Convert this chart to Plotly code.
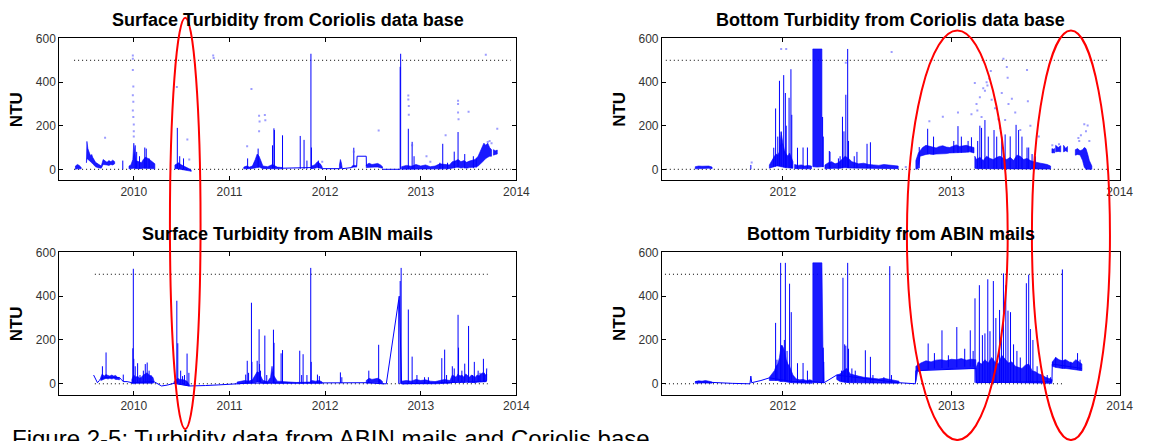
import plotly.graph_objects as go

# ---------------------------------------------------------------
# Turbidity time series (x in decimal years, y in NTU)
# Each series is drawn from: dense noisy bands (t, lo, hi, None = gap),
# individual spikes (t, base, peak), isolated samples (dots) and a
# connecting line.
# ---------------------------------------------------------------

# ---- Surface turbidity, Coriolis data base ----
sc_band_t = [2009.39, 2009.41, 2009.43, 2009.45, None,
             2009.505, 2009.51, 2009.52, 2009.53, 2009.54, 2009.55, 2009.56, 2009.57, 2009.58, 2009.59, 2009.60,
             2009.62, 2009.64, 2009.66, 2009.68, 2009.70, 2009.72, 2009.74, 2009.76, 2009.78, 2009.80, None,
             2009.95, 2009.97, 2009.99, 2010.0, 2010.02, 2010.05, 2010.08, 2010.1, 2010.12, 2010.15, 2010.18, 2010.2, 2010.22, None,
             2010.43, 2010.45, 2010.47, 2010.49, 2010.51, 2010.53, 2010.55, 2010.57, 2010.59, 2010.60, None,
             2011.15, 2011.18, 2011.21, 2011.24, 2011.27, 2011.29, 2011.31, 2011.33, 2011.35, 2011.4, 2011.45, 2011.5, 2011.55, None,
             2011.86, 2011.89, 2011.92, 2011.95, 2011.97, None,
             2012.15, 2012.16, 2012.17, 2012.18, None,
             2012.28, 2012.3, 2012.33, None,
             2012.43, 2012.46, 2012.49, 2012.52, 2012.55, 2012.58, 2012.6, None,
             2012.8, 2012.85, 2012.9, 2012.95, 2013.0, 2013.05, 2013.1, 2013.15, 2013.2, 2013.25, 2013.3,
             2013.33, 2013.36, 2013.39, 2013.42, 2013.45, 2013.48, 2013.51, 2013.54, 2013.57, 2013.6,
             2013.62, 2013.64, 2013.66, 2013.68, 2013.70, 2013.72, 2013.74, None,
             2013.76, 2013.78, 2013.80]
sc_band_hi = [15, 22, 18, 8, None,
              40, 128, 95, 78, 70, 62, 68, 55, 50, 40, 32, 25, 18, 15, 45, 38, 32, 40, 35, 42, 35, None,
              15, 20, 45, 120, 40, 35, 30, 45, 55, 50, 40, 35, 25, None,
              20, 25, 30, 22, 18, 15, 10, 5, 0, -4, None,
              10, 15, 10, 15, 45, 70, 60, 40, 15, 12, 22, 10, 8, None,
              15, 20, 35, 25, 10, None,
              20, 45, 30, 10, None,
              15, 18, 16, None,
              20, 28, 22, 25, 27, 20, 12, None,
              12, 18, 14, 22, 15, 20, 12, 15, 25, 22, 20,
              35, 38, 45, 35, 40, 32, 38, 40, 45, 60,
              80, 100, 120, 110, 120, 100, 90, None,
              90, 85, 88]
sc_band_lo = [0, 2, 3, 2, None,
              30, 50, 45, 40, 38, 35, 30, 25, 20, 15, 12, 8, 5, 5, 22, 22, 20, 18, 22, 20, 25, None,
              2, 3, 5, 5, 3, 2, 3, 5, 5, 5, 3, 3, 2, None,
              2, 3, 3, 2, 0, -2, -4, -6, -8, -10, None,
              2, 3, 3, 4, 5, 8, 10, 8, 3, 3, 5, 3, 2, None,
              3, 5, 8, 5, 2, None,
              2, 5, 5, 2, None,
              8, 10, 10, None,
              8, 10, 9, 10, 10, 8, 5, None,
              0, 0, 0, 2, 0, 0, 0, 0, 2, 2, 3,
              5, 8, 10, 6, 8, 5, 8, 10, 10, 15,
              25, 30, 40, 50, 55, 60, 60, None,
              65, 68, 70]
sc_spike_t = [2009.885, 2010.015, 2010.03, 2010.06, 2010.115, 2010.13, 2010.16, 2010.455, 2010.48, 2010.52,
              2011.19, 2011.30, 2011.45, 2011.465, 2011.47, 2011.555, 2011.74, 2011.78, 2011.81, 2011.852,
              2011.857, 2011.93, 2012.3, 2012.785, 2012.79, 2012.87, 2012.91, 2012.93, 2013.2, 2013.23,
              2013.28, 2013.35, 2013.39, 2013.46, 2013.55, 2013.58]
sc_spike_base = [0, 5, 5, 3, 5, 5, 5, 3, 3, 0,
                 3, 8, 5, 5, 5, 2, 2, 2, 2, 2,
                 2, 5, 10, 0, 0, 0, 0, 0, 0, 0,
                 0, 5, 8, 5, 5, 8]
sc_spike_peak = [40, 110, 80, 60, 100, 95, 50, 190, 60, 50,
                 50, 95, 110, 188, 180, 156, 153, 135, 40, 530,
                 100, 40, 99, 470, 530, 186, 126, 60, 30, 117,
                 30, 81, 171, 70, 60, 50]
sc_line_t = [2011.55, 2011.65, 2011.75, 2011.86, None, 2011.97, 2012.06, 2012.15, None,
             2012.18, 2012.23, 2012.28, None, 2012.33, 2012.335, 2012.43, 2012.432, None,
             2012.6, 2012.7, 2012.785]
sc_line_v = [5, 6, 5, 8, None, 3, 2, 3, None,
             3, 5, 8, None, 15, 60, 60, 15, None,
             0, 0, 0]
sc_dot_t = [2009.70, 2009.99, 2009.99, 2009.99, 2009.995, 2009.99, 2009.995, 2009.99, 2009.995, 2010.0,
            2010.0, 2010.0, 2010.45, 2010.56, 2010.58, 2010.83, 2010.835, 2011.185, 2011.23, 2011.31,
            2011.315, 2011.31, 2011.37, 2011.375, 2011.97, 2012.3, 2012.56, 2012.87, 2012.87, 2012.875,
            2012.875, 2012.91, 2013.26, 2013.39, 2013.39, 2013.39, 2013.395, 2013.5, 2013.68, 2013.8,
            2013.72, 2013.70, 2013.74, 2013.06, 2013.1]
sc_dot_v = [145, 522, 507, 455, 380, 340, 310, 270, 240, 205,
            175, 150, 378, 137, 45, 522, 510, 106, 368, 246,
            219, 174, 249, 225, 35, 80, 178, 339, 320, 290,
            250, 110, 156, 315, 300, 260, 230, 264, 525, 186,
            130, 125, 120, 60, 35]

# ---- Bottom turbidity, Coriolis data base ----
bc_band_t = [2011.48, 2011.50, 2011.52, 2011.54, 2011.56, 2011.58, None,
             2011.92, 2011.93, 2011.94, 2011.95, 2011.96, 2011.97, 2011.98, 2011.99, 2012.0, 2012.01,
             2012.02, 2012.03, 2012.04, 2012.05, 2012.06, None,
             2012.07, 2012.09, 2012.11, 2012.13, 2012.15, 2012.17, None,
             2012.178, 2012.205, 2012.232, None,
             2012.25, 2012.27, 2012.29, 2012.31, 2012.33, 2012.35, 2012.37, 2012.39, 2012.41, 2012.43,
             2012.45, 2012.48, 2012.51, 2012.54, 2012.57, 2012.60, 2012.63, 2012.66, 2012.685, None,
             2012.79, 2012.805, 2012.815, 2012.83, 2012.85, 2012.87, 2012.89, 2012.91, 2012.93, 2012.95,
             2012.97, 2012.99, 2013.01, 2013.03, 2013.05, 2013.07, 2013.09, 2013.11, 2013.135, None,
             2013.14, 2013.15, 2013.17, 2013.19, 2013.21, 2013.23, 2013.25, 2013.27, 2013.29, 2013.31,
             2013.33, 2013.35, 2013.37, 2013.39, 2013.41, 2013.43, 2013.45, 2013.47, 2013.49, 2013.51,
             2013.53, 2013.55, 2013.57, 2013.59, None,
             2013.598, 2013.606, 2013.614, None,
             2013.62, 2013.635, 2013.65, None,
             2013.667, 2013.68, 2013.69, None,
             2013.737, 2013.75, 2013.765, 2013.78, 2013.79, 2013.80, 2013.81, 2013.82, 2013.835]
bc_band_hi = [12, 15, 14, 16, 15, 10, None,
              20, 35, 45, 60, 70, 65, 80, 170, 120, 85, 70, 60, 75, 50, 35, None,
              22, 18, 20, 15, 18, 15, None,
              552, 552, 552, None,
              20, 30, 35, 25, 30, 45, 60, 50, 35, 30, 25, 28, 22, 20, 18, 22, 20, 18, 15, None,
              40, 75, 85, 100, 110, 105, 100, 98, 105, 108, 102, 100, 106, 112, 105, 108, 110, 105, 100, None,
              60, 45, 55, 40, 60, 50, 45, 55, 60, 50, 45, 55, 40, 65, 60, 45, 50, 40, 35, 30,
              28, 25, 22, 15, None,
              95, 92, 95, None,
              110, 100, 108, None,
              110, 95, 105, None,
              90, 95, 85, 90, 100, 95, 70, 40, 15]
bc_band_lo = [2, 4, 5, 4, 5, 3, None,
              5, 8, 10, 12, 15, 15, 15, 12, 10, 8, 8, 6, 5, 5, 5, None,
              3, 3, 2, 3, 3, 2, None,
              12, 10, 12, None,
              2, 3, 5, 5, 4, 5, 8, 6, 5, 5, 4, 4, 3, 3, 3, 3, 3, 3, 3, None,
              0, 5, 60, 65, 68, 70, 68, 70, 70, 72, 72, 75, 75, 76, 75, 78, 78, 80, 75, None,
              5, 3, 3, 2, 3, 3, 2, 3, 3, 2, 3, 3, 2, 3, 3, 2, 3, 2, 2, 2,
              2, 1, 1, 1, None,
              75, 76, 75, None,
              80, 82, 80, None,
              80, 85, 80, None,
              65, 68, 66, 40, 10, 0, 0, 0, 0]
bc_spike_t = [2011.81, 2011.946, 2011.957, 2011.97, 2011.98, 2011.99, 2012.005, 2012.015, 2012.02, 2012.037,
              2012.048, 2012.053, 2012.087, 2012.12, 2012.146, 2012.236, 2012.24, 2012.276, 2012.28, 2012.33,
              2012.34, 2012.354, 2012.363, 2012.374, 2012.385, 2012.39, 2012.424, 2012.44, 2012.5, 2012.52,
              2012.81, 2012.86, 2012.895, 2013.015, 2013.04, 2013.06, 2013.1, 2013.12, 2013.157, 2013.17,
              2013.18, 2013.2, 2013.22, 2013.254, 2013.27, 2013.3, 2013.32, 2013.35, 2013.385, 2013.40,
              2013.42, 2013.45, 2013.46, 2013.48, 2013.5]
bc_spike_base = [0, 10, 12, 15, 15, 12, 10, 8, 8, 6,
                 5, 5, 3, 3, 3, 10, 10, 3, 5, 4,
                 5, 5, 8, 8, 6, 6, 5, 5, 4, 3,
                 5, 70, 68, 75, 75, 76, 78, 80, 3, 3,
                 3, 3, 3, 2, 3, 3, 2, 3, 3, 3,
                 3, 3, 2, 2, 2]
bc_spike_peak = [20, 99, 279, 150, 406, 174, 432, 350, 200, 328,
                 459, 250, 99, 100, 100, 240, 150, 84, 80, 50,
                 60, 241, 174, 342, 552, 130, 60, 80, 117, 124,
                 102, 186, 150, 130, 198, 150, 130, 147, 130, 200,
                 190, 226, 150, 180, 150, 150, 160, 151, 204, 180,
                 150, 100, 100, 70, 60]
bc_dot_t = [2011.815, 2011.99, 2012.02, 2012.374, 2012.646, 2012.73, 2012.87, 2012.95, 2013.04, 2013.12,
            2013.14, 2013.15, 2013.155, 2013.19, 2013.2, 2013.21, 2013.215, 2013.225, 2013.235, 2013.24,
            2013.26, 2013.28, 2013.31, 2013.32, 2013.33, 2013.335, 2013.34, 2013.36, 2013.38, 2013.41,
            2013.45, 2013.455, 2013.47, 2013.52, 2013.79, 2013.81, 2013.80, 2013.755, 2013.77, 2013.76,
            2013.82, 2013.6, 2013.64, 2013.29, 2013.18, 2013.3, 2013.17]
bc_dot_v = [31, 552, 552, 489, 538, 10, 220, 241, 261, 253,
            396, 300, 270, 372, 360, 399, 384, 417, 451, 319,
            280, 230, 507, 226, 469, 420, 300, 324, 260, 180,
            456, 312, 200, 150, 207, 201, 174, 144, 156, 130,
            130, 110, 115, 190, 240, 350, 330]

# ---- Surface turbidity, ABIN mails ----
sa_line_t = [2009.58, 2009.59, 2009.605, 2009.62, 2009.64, 2009.655, 2009.75, 2009.85, 2009.87, 2009.89,
             2009.93, 2009.97, 2009.98, 2010.21, 2010.25, 2010.29, 2010.35, 2010.41, 2010.42, 2010.58,
             2010.65, 2010.75, 2010.89, 2011.0, 2011.08, 2011.2, 2011.35, 2011.55, 2011.7, 2011.85,
             2011.97, 2012.1, 2012.2, 2012.3, 2012.43, 2012.6, 2012.64, 2012.775, 2012.8, 2012.81,
             2013.3, 2013.65, 2013.685, 2013.69]
sa_line_v = [40, 30, 15, 5, 15, 25, 30, 28, 20, 10,
             10, 8, 5, 10, 0, -10, -6, 0, 2, -10,
             -10, -8, -5, -2, 0, 3, 3, 3, 3, 3,
             3, 3, 5, 5, 5, 0, 0, 400, 0, 0,
             5, 10, 10, 70]
sa_band_t = [2009.655, 2009.67, 2009.69, 2009.71, 2009.73, 2009.75, 2009.77, 2009.79, 2009.81, 2009.83, 2009.85, None,
             2009.98, 2010.0, 2010.02, 2010.04, 2010.06, 2010.08, 2010.1, 2010.12, 2010.14, 2010.16, 2010.18, 2010.2, 2010.21, None,
             2010.42, 2010.44, 2010.46, 2010.48, 2010.50, 2010.52, 2010.54, 2010.56, 2010.58, None,
             2011.08, 2011.12, 2011.16, 2011.2, 2011.24, 2011.27, 2011.29, 2011.31, 2011.33, 2011.35,
             2011.4, 2011.43, 2011.445, 2011.46, 2011.5, 2011.55, 2011.7, 2011.84, 2011.86, 2011.9, 2011.94, 2011.97, None,
             2012.43, 2012.46, 2012.49, 2012.52, 2012.55, 2012.58, 2012.6, None,
             2012.8, 2012.85, 2012.9, 2012.95, 2013.0, 2013.05, 2013.1, 2013.15, 2013.2, 2013.25, 2013.3,
             2013.31, 2013.33, 2013.35, 2013.37, 2013.39, 2013.41, 2013.43, 2013.45, 2013.47, 2013.49,
             2013.51, 2013.53, 2013.55, 2013.57, 2013.59, 2013.61, 2013.63, 2013.65, 2013.67, 2013.69]
sa_band_hi = [30, 45, 35, 42, 38, 35, 40, 35, 38, 30, 28, None,
              20, 40, 30, 35, 25, 30, 40, 45, 50, 40, 35, 30, 15, None,
              10, 20, 25, 20, 20, 18, 15, 10, -5, None,
              8, 10, 15, 12, 18, 40, 55, 50, 35, 15,
              10, 30, 80, 40, 12, 10, 6, 8, 15, 12, 15, 8, None,
              15, 25, 20, 22, 25, 18, 10, None,
              12, 15, 12, 20, 15, 18, 12, 10, 15, 20, 15,
              20, 40, 35, 30, 45, 35, 40, 30, 45, 35,
              30, 40, 35, 30, 40, 35, 45, 50, 40, 45]
sa_band_lo = [15, 20, 22, 25, 22, 25, 22, 25, 20, 20, 18, None,
              2, 0, 2, 3, 2, 3, 3, 5, 5, 3, 3, 3, 5, None,
              0, 2, 2, 0, -2, -4, -6, -8, -10, None,
              0, 1, 2, 2, 3, 5, 8, 8, 5, 3,
              2, 3, 5, 3, 2, 2, 0, 1, 2, 2, 2, 2, None,
              3, 5, 5, 5, 5, 3, 0, None,
              0, 0, 0, 2, 0, 0, 0, 0, 0, 2, 2,
              3, 5, 8, 5, 10, 5, 8, 5, 10, 8,
              5, 8, 5, 5, 8, 8, 10, 10, 10, 15]
sa_spike_t = [2009.672, 2009.71, 2009.89, 2009.99, 2009.995, 2010.0, 2010.015, 2010.04, 2010.065, 2010.1,
              2010.12, 2010.14, 2010.16, 2010.18, 2010.45, 2010.46, 2010.49, 2010.51, 2010.53, 2010.557,
              2010.576, 2011.17, 2011.186, 2011.2, 2011.23, 2011.235, 2011.29, 2011.31, 2011.315, 2011.325,
              2011.37, 2011.39, 2011.46, 2011.466, 2011.54, 2011.555, 2011.735, 2011.755, 2011.77, 2011.81,
              2011.85, 2011.855, 2011.92, 2011.94, 2012.16, 2012.175, 2012.457, 2012.56, 2012.57, 2012.77,
              2012.785, 2012.795, 2012.87, 2012.91, 2012.96, 2013.04, 2013.08, 2013.22, 2013.25, 2013.27,
              2013.33, 2013.35, 2013.39, 2013.395, 2013.43, 2013.46, 2013.5, 2013.54, 2013.56, 2013.6,
              2013.62, 2013.655, 2013.665]
sa_spike_base = [20, 25, 10, 5, 5, 5, 3, 3, 3, 3,
                 5, 5, 3, 3, 2, 2, 0, -2, -4, -8,
                 -9, 2, 2, 2, 3, 3, 8, 8, 8, 5,
                 2, 2, 3, 3, 2, 2, 0, 0, 0, 1,
                 2, 2, 2, 2, 3, 3, 5, 5, 5, 0,
                 0, 0, 0, 0, 0, 0, 0, 0, 2, 2,
                 5, 8, 10, 10, 8, 5, 5, 5, 5, 8,
                 8, 10, 10]
sa_spike_peak = [80, 143, 42, 162, 525, 114, 80, 94, 40, 60,
                 90, 97, 60, 40, 379, 185, 60, 35, 40, 138,
                 50, 42, 105, 50, 370, 100, 105, 249, 90, 60,
                 220, 40, 247, 187, 139, 154, 151, 40, 135, 40,
                 529, 100, 42, 35, 52, 30, 60, 178, 20, 380,
                 469, 529, 339, 124, 40, 30, 30, 117, 156, 40,
                 80, 70, 315, 165, 60, 92, 264, 40, 100, 60,
                 50, 114, 50]

# ---- Bottom turbidity, ABIN mails ----
ba_line_t = [2011.48, 2011.58, 2011.7, 2011.8, 2011.805, 2011.81, 2011.815, 2011.87, 2011.92, 2012.06,
             2012.175, 2012.245, 2012.32, 2012.69, 2012.74, 2012.787, 2012.79, 2013.146, 2013.15, 2013.598,
             2013.6, 2013.776]
ba_line_v = [10, 5, 2, 0, 0, 35, 5, 15, 27, 10,
             10, 5, 40, 5, 3, 0, 60, 70, 5, 10,
             90, 70]
ba_band_t = [2011.48, 2011.50, 2011.52, 2011.54, 2011.56, 2011.58, None,
             2011.92, 2011.935, 2011.95, 2011.96, 2011.97, 2011.98, 2011.99, 2012.0, 2012.01, 2012.02,
             2012.03, 2012.04, 2012.05, 2012.06, 2012.08, 2012.1, 2012.12, 2012.14, 2012.16, 2012.175, None,
             2012.178, 2012.205, 2012.232, 2012.238, 2012.245, None,
             2012.32, 2012.34, 2012.36, 2012.38, 2012.40, 2012.42, 2012.45, 2012.48, 2012.51, 2012.54,
             2012.57, 2012.6, 2012.63, 2012.66, 2012.69, None,
             2012.79, 2012.80, 2012.82, 2012.85, 2012.88, 2012.91, 2012.94, 2012.97, 2013.0, 2013.03,
             2013.06, 2013.09, 2013.12, 2013.146, None,
             2013.146, 2013.16, 2013.18, 2013.2, 2013.22, 2013.24, 2013.26, 2013.28, 2013.3, 2013.32,
             2013.34, 2013.36, 2013.38, 2013.4, 2013.42, 2013.44, 2013.46, 2013.48, 2013.5, 2013.52,
             2013.54, 2013.56, 2013.58, 2013.598, None,
             2013.6, 2013.62, 2013.64, 2013.66, 2013.68, 2013.70, 2013.72, 2013.74, 2013.76, 2013.776]
ba_band_hi = [10, 14, 12, 15, 12, 8, None,
              30, 45, 60, 80, 90, 120, 175, 170, 150, 110, 90, 80, 60, 40, 22, 18, 20, 15, 18, 15, None,
              552, 552, 552, 165, 60, None,
              40, 45, 60, 70, 45, 40, 35, 30, 28, 25, 22, 25, 20, 18, 12, None,
              80, 85, 95, 105, 100, 108, 110, 105, 112, 110, 115, 108, 112, 110, None,
              70, 100, 90, 110, 95, 120, 100, 90, 130, 110, 95, 100, 80, 75, 70, 85, 90, 60, 55, 45,
              40, 30, 25, 20, None,
              100, 120, 110, 105, 110, 100, 95, 110, 100, 90]
ba_band_lo = [2, 3, 4, 3, 4, 3, None,
              15, 15, 18, 15, 15, 12, 10, 10, 10, 8, 8, 6, 5, 5, 3, 3, 3, 2, 2, 2, None,
              5, 5, 5, 5, 5, None,
              20, 10, 8, 6, 5, 5, 5, 4, 3, 3, 3, 3, 3, 2, 2, None,
              10, 55, 60, 62, 64, 65, 66, 66, 68, 68, 70, 70, 70, 68, None,
              5, 5, 8, 6, 5, 8, 6, 5, 8, 5, 5, 6, 5, 5, 4, 5, 5, 4, 3, 3,
              3, 2, 2, 2, None,
              80, 75, 72, 70, 70, 68, 65, 65, 62, 60]
ba_spike_t = [2011.957, 2011.965, 2011.987, 2011.995, 2012.009, 2012.015, 2012.025, 2012.04, 2012.05, 2012.087,
              2012.12, 2012.146, 2012.24, 2012.243, 2012.348, 2012.357, 2012.367, 2012.374, 2012.385, 2012.39,
              2012.41, 2012.43, 2012.49, 2012.52, 2012.535, 2012.6, 2012.635, 2012.645, 2012.8, 2012.863,
              2012.9, 2012.945, 2012.983, 2013.033, 2013.08, 2013.113, 2013.13, 2013.141, 2013.167, 2013.185,
              2013.2, 2013.217, 2013.23, 2013.25, 2013.265, 2013.287, 2013.298, 2013.31, 2013.324, 2013.337,
              2013.352, 2013.37, 2013.39, 2013.41, 2013.446, 2013.46, 2013.47, 2013.485, 2013.51, 2013.57,
              2013.59, 2013.603, 2013.62, 2013.66, 2013.675, 2013.71, 2013.75, 2013.765]
ba_spike_base = [15, 15, 10, 10, 10, 10, 8, 6, 5, 3,
                 3, 2, 5, 5, 10, 8, 6, 6, 5, 5,
                 5, 5, 4, 3, 3, 3, 3, 3, 60, 68,
                 70, 72, 75, 75, 78, 78, 78, 5, 5, 5,
                 5, 5, 5, 5, 5, 5, 5, 5, 5, 5,
                 5, 5, 5, 5, 5, 5, 5, 5, 3, 2,
                 2, 80, 75, 70, 70, 68, 65, 62]
ba_spike_peak = [278, 110, 552, 177, 200, 552, 150, 457, 327, 94,
                 95, 60, 165, 100, 60, 484, 180, 174, 552, 160,
                 70, 60, 153, 123, 40, 30, 537, 40, 100, 184,
                 140, 244, 130, 259, 160, 244, 150, 390, 450, 222,
                 230, 477, 240, 469, 300, 337, 230, 504, 450, 334,
                 327, 180, 150, 120, 459, 498, 250, 200, 80, 40,
                 30, 100, 121, 522, 110, 100, 140, 110]

# ---- Reference levels (dotted) and their time spans ----
ref_levels = [0, 500]
sc_ref_span = [2009.376, 2013.94]
bc_ref_span = [2011.305, 2013.93]
sa_ref_span = [2009.593, 2013.70]
ba_ref_span = [2011.30, 2013.66]

# ---- Axis ticks ----
left_years = [2010, 2011, 2012, 2013, 2014]
right_years = [2012, 2013, 2014]
ntu_ticks = [0, 200, 400, 600]

# ---------------------------------------------------------------
FIG_W, FIG_H = 1162, 441
BLUE = "#0000ff"
DOT_BLUE = "rgba(90,90,255,0.6)"


def fx(px):
    return px / FIG_W


def fy(py):
    return 1 - py / FIG_H


def band_polygon(t, lo, hi):
    """Close every band segment (separated by None) into its own polygon."""
    xs, ys = [], []
    seg_t, seg_lo, seg_hi = [], [], []
    for a, b, c in list(zip(t, lo, hi)) + [(None, None, None)]:
        if a is None:
            if seg_t:
                xs += seg_t + seg_t[::-1] + [seg_t[0], None]
                ys += seg_hi + seg_lo[::-1] + [seg_hi[0], None]
            seg_t, seg_lo, seg_hi = [], [], []
        else:
            seg_t.append(a)
            seg_lo.append(b)
            seg_hi.append(c)
    return xs, ys


def spike_path(t, base, peak):
    xs, ys = [], []
    for a, b, c in zip(t, base, peak):
        xs += [a, a, None]
        ys += [b, c, None]
    return xs, ys


panels = [
    dict(ax="", title="Surface Turbidity from Coriolis data base",
         xpx=(60, 522.7), ypx=(32, 176), xr=(2009.221, 2014.0), years=left_years,
         ref=sc_ref_span, band=(sc_band_t, sc_band_lo, sc_band_hi),
         spikes=(sc_spike_t, sc_spike_base, sc_spike_peak),
         line=(sc_line_t, sc_line_v), dots=(sc_dot_t, sc_dot_v)),
    dict(ax="2", title="Bottom Turbidity from Coriolis data base",
         xpx=(670, 1133.3), ypx=(32, 176), xr=(2011.282, 2014.0), years=right_years,
         ref=bc_ref_span, band=(bc_band_t, bc_band_lo, bc_band_hi),
         spikes=(bc_spike_t, bc_spike_base, bc_spike_peak),
         line=None, dots=(bc_dot_t, bc_dot_v)),
    dict(ax="3", title="Surface Turbidity from ABIN mails",
         xpx=(60, 522.7), ypx=(249.3, 394), xr=(2009.221, 2014.0), years=left_years,
         ref=sa_ref_span, band=(sa_band_t, sa_band_lo, sa_band_hi),
         spikes=(sa_spike_t, sa_spike_base, sa_spike_peak),
         line=(sa_line_t, sa_line_v), dots=None),
    dict(ax="4", title="Bottom Turbidity from ABIN mails",
         xpx=(670, 1133.3), ypx=(249.3, 394), xr=(2011.282, 2014.0), years=right_years,
         ref=ba_ref_span, band=(ba_band_t, ba_band_lo, ba_band_hi),
         spikes=(ba_spike_t, ba_spike_base, ba_spike_peak),
         line=(ba_line_t, ba_line_v), dots=None),
]

fig = go.Figure()
layout_axes = {}
annotations = []

for p in panels:
    xa, ya = "x" + p["ax"], "y" + p["ax"]
    common = dict(xaxis=xa, yaxis=ya, showlegend=False, hoverinfo="skip")

    # dotted reference levels
    for lev in ref_levels:
        fig.add_trace(go.Scatter(x=p["ref"], y=[lev, lev], mode="lines",
                                 line=dict(color="#000000", width=1, dash="1px,3px"), **common))

    # connecting line
    if p["line"] is not None:
        fig.add_trace(go.Scatter(x=p["line"][0], y=p["line"][1], mode="lines",
                                 line=dict(color=BLUE, width=1), connectgaps=False, **common))

    # dense noisy bands
    bx, by = band_polygon(*p["band"])
    fig.add_trace(go.Scatter(x=bx, y=by, mode="lines", fill="toself",
                             fillcolor="rgba(0,0,255,0.9)", line=dict(color=BLUE, width=0.6), **common))

    # spikes
    sx, sy = spike_path(*p["spikes"])
    fig.add_trace(go.Scatter(x=sx, y=sy, mode="lines", line=dict(color=BLUE, width=1), **common))

    # isolated samples
    if p["dots"] is not None:
        fig.add_trace(go.Scatter(x=p["dots"][0], y=p["dots"][1], mode="markers",
                                 marker=dict(color=DOT_BLUE, size=2, symbol="square",
                                             line=dict(width=0)), **common))

    axis_style = dict(showline=True, linecolor="#000000", linewidth=1, mirror="ticks",
                      ticks="inside", ticklen=4, tickcolor="#000000", showgrid=False,
                      zeroline=False, tickfont=dict(family="Arial", size=12, color="#333333"))
    x0, x1 = p["xpx"]
    ytop, ybot = p["ypx"]
    layout_axes["xaxis" + p["ax"]] = dict(
        domain=[fx(x0), fx(x1)], range=list(p["xr"]), anchor=ya,
        tickvals=p["years"], ticktext=[str(y) for y in p["years"]], **axis_style)
    layout_axes["yaxis" + p["ax"]] = dict(
        domain=[fy(ybot), fy(ytop)], range=[-50, 600], anchor=xa,
        tickvals=ntu_ticks, ticktext=[str(v) for v in ntu_ticks], **axis_style)

    annotations.append(dict(text="<b>%s</b>" % p["title"], xref="paper", yref="paper",
                            x=fx((x0 + x1) / 2), y=fy(ytop - 19), xanchor="center", yanchor="middle",
                            showarrow=False, font=dict(family="Arial", size=18, color="#000000")))
    annotations.append(dict(text="<b>NTU</b>", xref="paper", yref="paper", textangle=-90,
                            x=fx(x0 - 43), y=fy((ytop + ybot) / 2), xanchor="center", yanchor="middle",
                            showarrow=False, font=dict(family="Arial", size=17, color="#000000")))

annotations.append(dict(text="Figure 2-5: Turbidity data from ABIN mails and Coriolis base",
                        xref="paper", yref="paper", x=fx(10), y=fy(423), xanchor="left", yanchor="top",
                        showarrow=False, font=dict(family="Arial", size=24, color="#000000")))

# red highlight ellipses (pixel boxes)
ellipse_boxes = [(172, 11, 203, 429), (918, 24, 1020, 440), (1044.5, 24, 1123.5, 440)]
shapes = [dict(type="circle", xref="paper", yref="paper", x0=fx(a), x1=fx(c), y0=fy(d), y1=fy(b),
               line=dict(color="#ff0000", width=2), layer="above")
          for a, b, c, d in ellipse_boxes]

fig.update_layout(width=FIG_W, height=FIG_H, margin=dict(l=0, r=0, t=0, b=0),
                  paper_bgcolor="white", plot_bgcolor="white",
                  annotations=annotations, shapes=shapes, **layout_axes)

fig.write_html("out.html")
